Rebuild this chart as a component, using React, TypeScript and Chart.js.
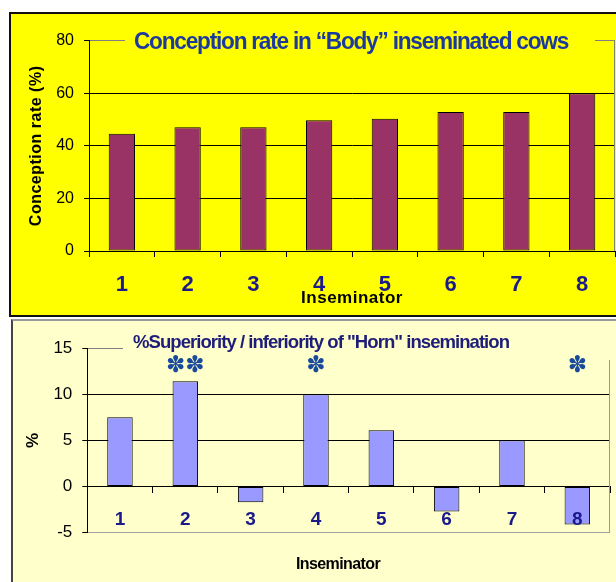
import { useEffect, useRef } from 'react';
import { Chart, registerables } from 'chart.js';

Chart.register(...registerables);

// ---------- data ----------
const inseminators = ['1', '2', '3', '4', '5', '6', '7', '8'];
const bodyConceptionRate = [44.6, 47.1, 47.1, 49.7, 50.3, 52.9, 52.9, 60];
const hornSuperiority = [7.5, 11.4, -1.7, 10, 6.1, -2.7, 5, -4.1];
const significanceMarks = ['', '**', '', '*', '', '', '', '*'];
const bodyYTicks = [0, 20, 40, 60, 80];
const hornYTicks = [-5, 0, 5, 10, 15];

const topTitle = 'Conception rate in \u201CBody\u201D inseminated cows';
const topYTitle = 'Conception rate (%)';
const bottomTitle = '%Superiority / inferiority of "Horn" insemination';
const bottomYTitle = '%';
const xTitle = 'Inseminator';

const FONT = '"Liberation Sans", Arial, Helvetica, sans-serif';
const MARK_LEVEL = 13.1;
const BOTTOM_TOP = 317;

function fittedText(ctx: CanvasRenderingContext2D, text: string, font: string, color: string, x: number, baseline: number, width: number, spacing: string) {
  ctx.save();
  ctx.font = font;
  (ctx as any).letterSpacing = spacing;
  ctx.fillStyle = color;
  ctx.textAlign = 'left';
  ctx.textBaseline = 'alphabetic';
  const w = ctx.measureText(text).width;
  ctx.translate(x, baseline);
  ctx.scale(width / w, 1);
  ctx.fillText(text, 0, 0);
  ctx.restore();
}

function centerText(ctx: CanvasRenderingContext2D, text: string, font: string, color: string, x: number, y: number, rot: number, spacing: string) {
  ctx.save();
  ctx.font = font;
  ctx.fillStyle = color;
  (ctx as any).letterSpacing = spacing;
  ctx.textAlign = 'center';
  ctx.textBaseline = 'middle';
  ctx.translate(x, y);
  ctx.rotate(rot);
  ctx.fillText(text, 0, 0);
  ctx.restore();
}

const topOverlay = {
  id: 'topOverlay',
  afterDraw(chart: any) {
    const ctx = chart.ctx as CanvasRenderingContext2D;
    const a = chart.chartArea;
    ctx.save();
    ctx.strokeStyle = '#808080';
    ctx.lineWidth = 1;
    ctx.beginPath();
    ctx.moveTo(Math.round(a.right) - 0.5, a.top);
    ctx.lineTo(Math.round(a.right) - 0.5, a.bottom);
    ctx.stroke();
    ctx.fillStyle = '#FFFF00';
    ctx.fillRect(125, 27, 470, 28);
    ctx.restore();
    fittedText(ctx, topTitle, `bold 24px ${FONT}`, '#1c3a9e', 134, 48.5, 434, '-1.3px');
    centerText(ctx, topYTitle, `bold 16px ${FONT}`, '#000', 37, (a.top + a.bottom) / 2, -Math.PI / 2, '0.5px');
    centerText(ctx, xTitle, `bold 17px ${FONT}`, '#000', (a.left + a.right) / 2, 298, 0, '0.5px');
  },
};

const bottomOverlay = {
  id: 'bottomOverlay',
  afterDraw(chart: any) {
    const ctx = chart.ctx as CanvasRenderingContext2D;
    const a = chart.chartArea;
    const xs = chart.scales.x;
    const ys = chart.scales.y;
    ctx.save();
    ctx.strokeStyle = '#999999';
    ctx.lineWidth = 1;
    ctx.beginPath();
    ctx.moveTo(Math.round(a.right) - 0.5, a.top);
    ctx.lineTo(Math.round(a.right) - 0.5, a.bottom);
    ctx.stroke();
    ctx.fillStyle = '#FFFFCC';
    ctx.fillRect(123, 325 - BOTTOM_TOP, 500, 35);
    ctx.restore();
    fittedText(ctx, bottomTitle, `bold 19px ${FONT}`, '#1e1e7a', 133, 348.3 - BOTTOM_TOP, 376, '-1px');
    ctx.save();
    ctx.font = `23px "DejaVu Sans", sans-serif`;
    ctx.fillStyle = '#1a4a9c';
    ctx.textAlign = 'center';
    ctx.textBaseline = 'middle';
    significanceMarks.forEach((m, i) => {
      if (!m) return;
      const t = m.replace(/\*/g, '\u273D');
      ctx.fillText(t, xs.getPixelForValue(i), ys.getPixelForValue(MARK_LEVEL));
    });
    ctx.restore();
    centerText(ctx, bottomYTitle, `bold 17px ${FONT}`, '#000', 33, (a.top + a.bottom) / 2, -Math.PI / 2, '0px');
    centerText(ctx, xTitle, `bold 16px ${FONT}`, '#000', 338, 565 - BOTTOM_TOP, 0, '-0.6px');
  },
};

export default function App() {
  const topRef = useRef<HTMLCanvasElement>(null);
  const botRef = useRef<HTMLCanvasElement>(null);

  useEffect(() => {
    Chart.defaults.font.family = FONT;
    const top = new Chart(topRef.current as HTMLCanvasElement, {
      type: 'bar',
      data: {
        labels: inseminators,
        datasets: [
          {
            data: bodyConceptionRate,
            backgroundColor: '#993366',
            borderColor: '#000',
            borderWidth: 1,
            borderSkipped: false,
            barPercentage: 0.4,
            categoryPercentage: 1,
          },
        ],
      },
      options: {
        animation: false,
        responsive: false,
        maintainAspectRatio: false,
        devicePixelRatio: 1,
        layout: { padding: { top: 40.7, right: 1, left: 0, bottom: 0 } },
        plugins: { legend: { display: false }, tooltip: { enabled: false } },
        scales: {
          x: {
            grid: { drawOnChartArea: false, tickLength: 6, color: '#000', offset: true },
            border: { color: '#000' },
            ticks: {
              color: '#1a1a8a',
              font: { family: FONT, size: 22, weight: 'bold' },
              padding: 14.8,
              maxRotation: 0,
              autoSkip: false,
            },
            afterFit: (s: any) => {
              s.height = 66;
            },
          },
          y: {
            min: bodyYTicks[0],
            max: bodyYTicks[bodyYTicks.length - 1],
            ticks: {
              stepSize: bodyYTicks[1] - bodyYTicks[0],
              color: '#000',
              font: { family: FONT, size: 16 },
              padding: 10,
            },
            grid: {
              color: (c: any) => (c.tick && c.tick.value === bodyYTicks[bodyYTicks.length - 1] ? '#808080' : '#000'),
              tickColor: '#000',
              tickLength: 5,
            },
            border: { color: '#000' },
            afterFit: (s: any) => {
              s.width = 89;
            },
          },
        },
      } as any,
      plugins: [topOverlay],
    });

    const bottom = new Chart(botRef.current as HTMLCanvasElement, {
      type: 'bar',
      data: {
        labels: inseminators,
        datasets: [
          {
            data: hornSuperiority,
            backgroundColor: '#9999FF',
            borderColor: '#000',
            borderWidth: 1,
            borderSkipped: false,
            barPercentage: 0.39,
            categoryPercentage: 1,
          },
        ],
      },
      options: {
        animation: false,
        responsive: false,
        maintainAspectRatio: false,
        devicePixelRatio: 1,
        layout: { padding: { top: 31, right: 6, left: 0, bottom: 49.3 } },
        plugins: { legend: { display: false }, tooltip: { enabled: false } },
        scales: {
          x: {
            position: { y: 0 },
            grid: { drawOnChartArea: false, tickLength: 6, color: '#000', offset: true },
            border: { color: '#000' },
            ticks: {
              z: 1,
              color: '#1a1a8a',
              font: { family: FONT, size: 19, weight: 'bold' },
              padding: 15.6,
              maxRotation: 0,
              autoSkip: false,
            },
          },
          y: {
            min: hornYTicks[0],
            max: hornYTicks[hornYTicks.length - 1],
            ticks: {
              stepSize: hornYTicks[1] - hornYTicks[0],
              color: '#000',
              font: { family: FONT, size: 17 },
              padding: 10,
            },
            grid: {
              color: (c: any) => {
                const v = c.tick ? c.tick.value : 0;
                if (v === hornYTicks[hornYTicks.length - 1]) return '#808080';
                if (v === hornYTicks[0]) return '#a0a0a0';
                return '#000';
              },
              tickColor: '#000',
              tickLength: 5,
            },
            border: { color: '#000' },
            afterFit: (s: any) => {
              s.width = 87.3;
            },
          },
        },
      } as any,
      plugins: [bottomOverlay],
    });

    return () => {
      top.destroy();
      bottom.destroy();
    };
  }, []);

  return (
    <div style={{ position: 'fixed', left: 0, top: 0, width: 616, height: 582, overflow: 'hidden', background: '#fff' }}>
      <div
        style={{
          position: 'absolute',
          left: 9,
          top: 12,
          width: 700,
          height: 305,
          boxSizing: 'border-box',
          background: '#FFFF00',
          border: '2px solid #111',
        }}
      />
      <div
        style={{
          position: 'absolute',
          left: 11,
          top: 319,
          width: 700,
          height: 300,
          boxSizing: 'border-box',
          background: '#FFFFCC',
          borderTop: '2px solid #999',
          borderLeft: '2px solid #444',
        }}
      />
      <canvas
        ref={topRef}
        width={616}
        height={317}
        style={{ position: 'absolute', left: 0, top: 0, width: 616, height: 317 }}
      />
      <canvas
        ref={botRef}
        width={616}
        height={265}
        style={{ position: 'absolute', left: 0, top: BOTTOM_TOP, width: 616, height: 265 }}
      />
    </div>
  );
}
